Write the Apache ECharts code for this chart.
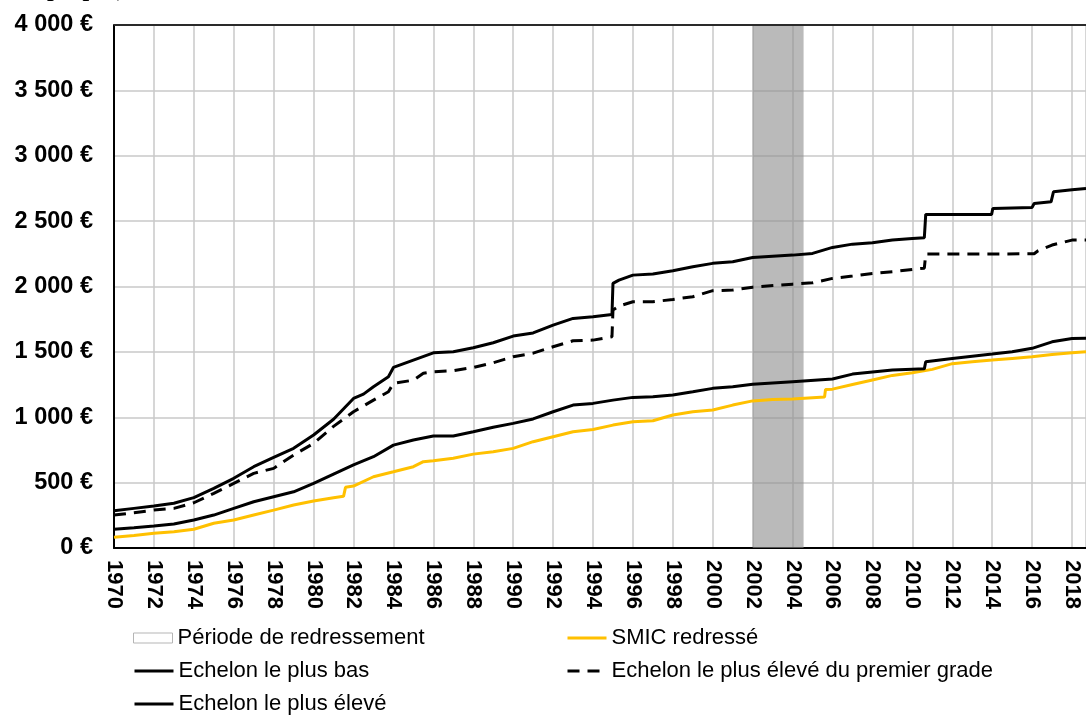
<!DOCTYPE html>
<html>
<head>
<meta charset="utf-8">
<script src="https://cdn.jsdelivr.net/npm/echarts@6/dist/echarts.min.js"></script>
<style>
html,body{margin:0;padding:0;background:#fff;}
#chart{width:1086px;height:715px;}
</style>
</head>
<body>
<div id="chart"></div>
<script>
// ---- Data ----
const xTicks = [1970,1972,1974,1976,1978,1980,1982,1984,1986,1988,1990,1992,1994,1996,1998,2000,2002,2004,2006,2008,2010,2012,2014,2016,2018];
const yTicks = [0,500,1000,1500,2000,2500,3000,3500,4000];

const periodeRedressement = [2002, 2004.55];

const hautYears  = [1970,1971,1972,1973,1974,1975,1976,1977,1978,1979,1980,1981,1982,1982.5,1983,1983.75,1984,1985,1986,1987,1988,1989,1990,1991,1992,1993,1994,1994.95,1995.0,1995.3,1996,1997,1998,1999,2000,2001,2002,2003,2004,2005,2006,2007,2008,2009,2010,2010.6,2010.67,2013.97,2014.03,2016,2016.1,2016.95,2017.07,2018,2018.7];
const hautValues = [285,303,321,342,385,456,533,622,693,762,864,985,1144,1177,1233,1310,1381,1437,1493,1501,1531,1570,1621,1645,1705,1756,1768,1786,2024,2049,2087,2095,2120,2151,2177,2189,2222,2232,2240,2253,2299,2324,2334,2355,2368,2373,2551,2551,2597,2605,2635,2648,2724,2740,2750];

const premierGradeYears  = [1970,1971,1972,1973,1974,1975,1976,1977,1978,1979,1980,1981,1982,1983,1983.75,1984,1985,1985.5,1986,1987,1988,1989,1990,1991,1992,1993,1994,1994.95,1995.0,1995.3,1996,1997,1998,1999,2000,2001,2002,2004,2005,2006,2007,2008,2009,2010,2010.6,2010.67,2016.1,2016.3,2017,2018,2018.7];
const premierGradeValues = [252,270,290,303,346,418,494,571,609,711,800,930,1042,1131,1195,1259,1284,1336,1348,1356,1381,1417,1463,1490,1539,1585,1590,1616,1820,1850,1883,1883,1901,1922,1968,1973,1995,2018,2028,2062,2080,2100,2113,2131,2140,2248,2250,2273,2317,2355,2355];

const basYears  = [1970,1971,1972,1973,1974,1975,1976,1977,1978,1979,1980,1981,1982,1983,1984,1985,1986,1987,1988,1989,1990,1991,1992,1993,1994,1995,1996,1997,1998,1999,2000,2001,2002,2004,2006,2007,2008,2009,2010,2010.6,2010.67,2012,2014,2015,2016,2017,2018,2018.7];
const basValues = [143,155,168,183,214,252,303,354,392,430,494,565,635,698,787,826,856,856,889,923,953,987,1042,1093,1106,1131,1152,1157,1170,1195,1221,1233,1252,1272,1292,1330,1346,1361,1368,1370,1424,1450,1483,1501,1527,1577,1603,1605];

const smicYears  = [1970,1971,1972,1973,1974,1975,1976,1977,1978,1979,1980,1981,1981.5,1981.6,1982,1983,1984,1985,1985.5,1986,1987,1988,1989,1990,1991,1992,1993,1994,1995,1996,1997,1998,1999,2000,2001,2002,2003,2004,2005,2005.6,2005.65,2006,2007,2008,2009,2010,2011,2012,2013,2014,2015,2016,2017,2018,2018.7];
const smicValues = [82,95,112,125,143,189,214,252,290,329,359,385,395,464,474,545,583,622,660,667,686,718,736,762,813,851,889,907,940,966,973,1017,1042,1055,1093,1125,1135,1139,1150,1155,1213,1215,1250,1285,1320,1340,1366,1410,1425,1437,1450,1463,1480,1493,1501];

// ---- Chart ----
function zip(xs, ys){ return xs.map((x,i)=>[x, ys[i]]); }
const FONT = '"Liberation Sans", Arial, sans-serif';

const chart = echarts.init(document.getElementById('chart'), null, {renderer:'canvas'});

function fmtEuro(v){
  const s = String(v).replace(/\B(?=(\d{3})+(?!\d))/g, ' ');
  return s + ' €';
}

const legendText = {color:'#000', fontSize:22, fontFamily:FONT};
function lg(name, left, top, extra){
  return Object.assign({
    data:[name], left:left, top:top, padding:0, itemWidth:39, itemHeight:12,
    selectedMode:false, textStyle:legendText, itemGap:0,
    itemStyle:{opacity:0},
    lineStyle:{width:3}
  }, extra||{});
}

chart.setOption({
  animation:false,
  backgroundColor:'#fff',
  grid:{left:114, right:-2, top:25, bottom:167, show:false, containLabel:false},
  xAxis:{
    type:'value', min:1970, max:2018.7, interval:2,
    axisLine:{show:true, onZero:false, lineStyle:{color:'#000', width:2}},
    axisTick:{show:false},
    splitLine:{show:true, lineStyle:{color:'#c8c8c8', width:1.5}},
    axisLabel:{
      rotate:-90, margin:12, color:'#000', fontWeight:'bold', fontSize:22, fontFamily:FONT,
      showMaxLabel:false,
      formatter:function(v){ return xTicks.indexOf(v) >= 0 ? String(v) : ''; }
    }
  },
  yAxis:{
    type:'value', min:yTicks[0], max:yTicks[yTicks.length-1], interval:500,
    axisLine:{show:true, lineStyle:{color:'#000', width:2}},
    axisTick:{show:false},
    splitLine:{show:true, lineStyle:{color:'#c8c8c8', width:1.5}},
    axisLabel:{margin:21, color:'#000', fontWeight:'bold', fontSize:23.5, fontFamily:FONT, formatter:fmtEuro}
  },
  legend:[
    lg('Période de redressement', 133, 627, {data:[{name:'Période de redressement', icon:'rect'}], itemHeight:10, itemStyle:{color:'#fff', borderColor:'#b5b5b5', borderWidth:1}}),
    lg('SMIC redressé', 566, 627),
    lg('Echelon le plus bas', 133, 660),
    lg('Echelon le plus élevé du premier grade', 566, 660),
    lg('Echelon le plus élevé', 133, 693)
  ],
  graphic:[
    {type:'text', left:47, top:-22, silent:true, style:{text:'propre),', font:'bold 24px "Liberation Serif", serif', fill:'#000'}},
    {type:'line', silent:true, z:100, shape:{x1:114, y1:25, x2:1086, y2:25}, style:{stroke:'#2a2a2a', lineWidth:2}}
  ],
  series:[
    {
      name:'Période de redressement', type:'line', data:[], silent:true,
      itemStyle:{color:'#fff'},
      markArea:{
        silent:true,
        itemStyle:{color:'rgba(140,140,140,0.6)'},
        data:[[{xAxis:periodeRedressement[0]},{xAxis:periodeRedressement[1]}]]
      }
    },
    {
      name:'SMIC redressé', type:'line', data:zip(smicYears, smicValues),
      showSymbol:false, symbol:'none', lineStyle:{color:'#FFC000', width:3}, itemStyle:{color:'#FFC000'}, z:3
    },
    {
      name:'Echelon le plus bas', type:'line', data:zip(basYears, basValues),
      showSymbol:false, symbol:'none', lineStyle:{color:'#000', width:3}, itemStyle:{color:'#000'}, z:4
    },
    {
      name:'Echelon le plus élevé du premier grade', type:'line', data:zip(premierGradeYears, premierGradeValues),
      showSymbol:false, symbol:'none', lineStyle:{color:'#000', width:3, type:[12,8]}, itemStyle:{color:'#000'}, z:4
    },
    {
      name:'Echelon le plus élevé', type:'line', data:zip(hautYears, hautValues),
      showSymbol:false, symbol:'none', lineStyle:{color:'#000', width:3}, itemStyle:{color:'#000'}, z:4
    }
  ]
});
</script>
</body>
</html>
